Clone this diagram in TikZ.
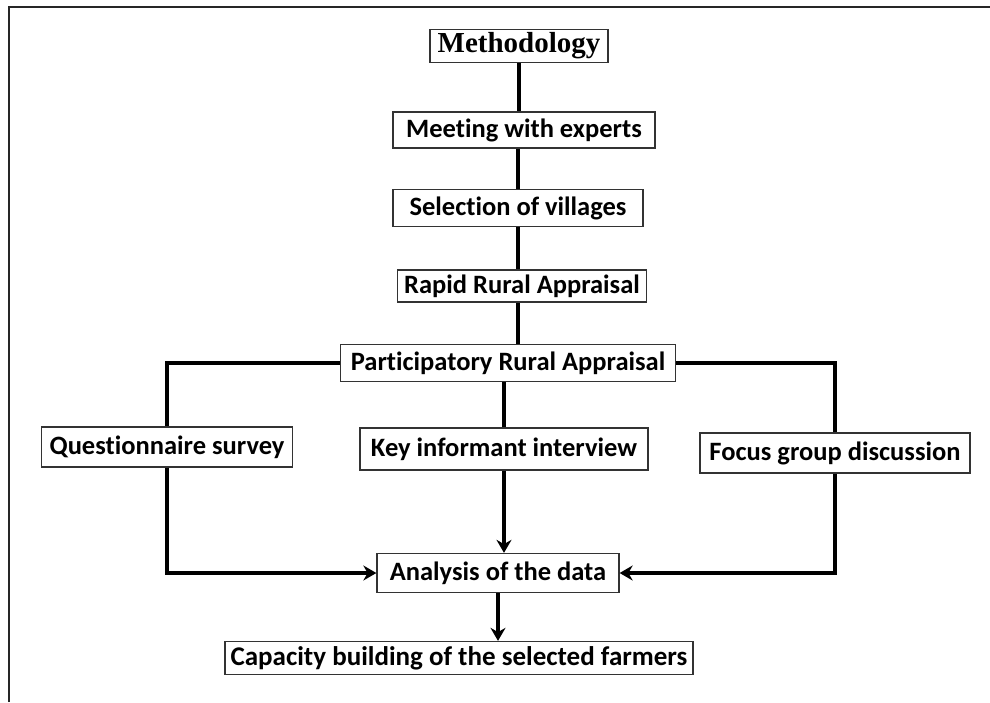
\documentclass[tikz,border=0pt]{standalone}
\usepackage{fontspec}
\setmainfont{Carlito}[Ligatures=NoCommon]
\newfontfamily\headfont{Liberation Serif}
\usetikzlibrary{positioning}
\usetikzlibrary{arrows.meta}

\begin{document}
\begin{tikzpicture}[
            x = 1pt, y = -1pt, % pixel units, y runs down
            > = {Stealth[length=13pt, width=15pt]}, % arrow head style
            semithick % line style
        ]

        \tikzstyle{block}=[
            draw = black!80,
            line width = 1.3pt,
            fill = white,
            inner sep = 0pt,
            font = \bfseries\fontsize{26.5}{30}\selectfont
        ]
        \tikzstyle{link}=[line width = 3.6pt, black]

        \useasboundingbox (0,0) rectangle (990,702);

        % frame
        \draw[line width = 2pt, black!85] (9,702) -- (9,7) -- (990,7);

        % main chain
        \node[block, minimum width=178pt, minimum height=33pt,
              font=\headfont\bfseries\fontsize{29}{32}\selectfont] (M) at (519,46) {Methodology};
        \node[block, minimum width=262pt, minimum height=36pt] (Meet) [below of=M, node distance=84pt, xshift=5pt] {Meeting with experts};
        \node[block, minimum width=250pt, minimum height=37pt] (Sel) [below of=Meet, node distance=78pt, xshift=-6pt] {Selection of villages};
        \node[block, minimum width=249pt, minimum height=32pt] (Rapid) [below of=Sel, node distance=78pt, xshift=4pt] {Rapid Rural Appraisal};
        \node[block, minimum width=335pt, minimum height=37pt] (PRA) [below of=Rapid, node distance=77pt, xshift=-14pt] {Participatory Rural Appraisal};

        \path[link] (M.south) edge (M.south |- Meet.north);
        \path[link] (Sel.north) edge (Sel.north |- Meet.south);
        \path[link] (Sel.south) edge (Sel.south |- Rapid.north);
        \path[link] (PRA.north -| Sel) edge (Rapid.south -| Sel);

        % tools
        \node[block, minimum width=288pt, minimum height=42pt] (Key) [below of=PRA, node distance=86pt, xshift=-4pt] {Key informant interview};
        \node[block, minimum width=251pt, minimum height=40pt] (Q) [left of=Key, node distance=337pt, yshift=2pt] {Questionnaire survey};
        \node[block, minimum width=270pt, minimum height=40pt] (F) [right of=Key, node distance=331pt, yshift=-4pt] {Focus group discussion};

        \draw[link] (PRA.west) -| (Q.north);
        \draw[link] (PRA.east) -| (F.north);
        \draw[link] (Key.north) -- (Key.north |- PRA.south);

        % outcome
        \node[block, minimum width=468pt, minimum height=33pt,
              font=\bfseries\fontsize{27}{30}\selectfont] (C) at (459,658) {Capacity building of the selected farmers};
        \node[block, minimum width=242pt, minimum height=39pt] (A) [below of=Key, node distance=124pt, xshift=-6pt] {Analysis of the data};

        \draw[link, ->] (Key.south) -- (Key.south |- A.north);
        \draw[link, ->] (Q.south) |- (A.west);
        \draw[link, ->] (F.south) |- (A.east);
        \draw[link, ->] (A.south) -- (A.south |- C.north);

  \end{tikzpicture}
\end{document}
